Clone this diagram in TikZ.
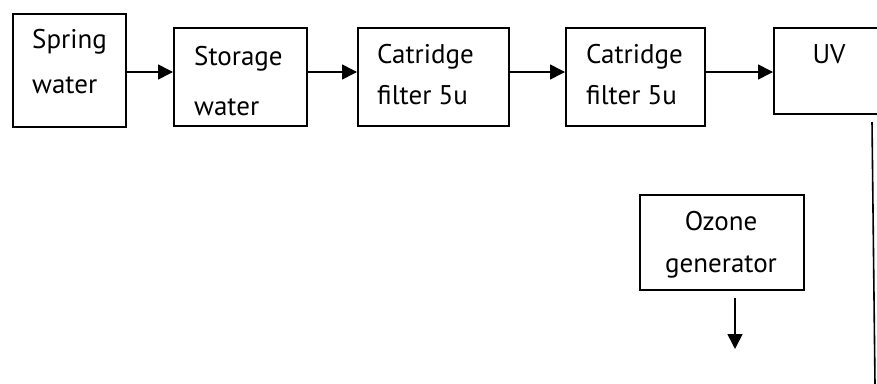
\documentclass[tikz,border=0pt]{standalone}
\usepackage{fontspec}
\setmainfont{PT Sans}
\usetikzlibrary{arrows.meta}
\tikzset{
  boxnode/.style={draw, line width=1.8pt, rectangle, inner sep=0pt, anchor=north west},
  lbl/.style={inner sep=0pt, font=\fontsize{27}{32}\selectfont},
  arr/.style={line width=1.6pt, -{Triangle[length=15pt,width=15pt]}},
  plain/.style={line width=1.6pt}
}
\begin{document}
\begin{tikzpicture}[x=1pt,y=-1pt]
\clip (0,0) rectangle (877,383);
\useasboundingbox (0,0) rectangle (877,383);
% boxes
\node[boxnode, minimum width=113pt, minimum height=113pt] (b1) at (12,13) {};
\node[boxnode, minimum width=133pt, minimum height=98pt] (b2) at (173,27) {};
\node[boxnode, minimum width=151pt, minimum height=98pt] (b3) at (357,27) {};
\node[boxnode, minimum width=139pt, minimum height=98pt] (b4) at (565,27) {};
\node[boxnode, minimum width=140pt, minimum height=86pt] (b5) at (773,27) {};
\node[boxnode, minimum width=164pt, minimum height=95pt] (b6) at (639,194) {};
% texts
\node[lbl, anchor=base west] (t1a) at (32,48) {Spring};
\node[lbl, anchor=base west] (t1b) at (32,93) {water};
\node[lbl, anchor=base west] (t2a) at (194,65) {Storage};
\node[lbl, anchor=base west] (t2b) at (194,115) {water};
\node[lbl, anchor=base west] (t3a) at (377,63) {Catridge};
\node[lbl, anchor=base west] (t3b) at (377,104) {filter 5u};
\node[lbl, anchor=base west] (t4a) at (586,63) {Catridge};
\node[lbl, anchor=base west] (t4b) at (586,104) {filter 5u};
\node[lbl, anchor=base] (t5) at (829,63) {UV};
\node[lbl, anchor=base] (t6a) at (721,230) {Ozone};
\node[lbl, anchor=base] (t6b) at (721,272) {generator};
% connectors
\draw[arr] (b1.east |- 0,72) -- (b2.west |- 0,72);
\draw[arr] (b2.east |- 0,72) -- (b3.west |- 0,72);
\draw[arr] (b3.east |- 0,72) -- (b4.west |- 0,72);
\draw[arr] (b4.east |- 0,72) -- (b5.west |- 0,72);
\coordinate (oz1) at (735,298);
\coordinate (oz2) at (735,349);
\draw[arr] (oz1) -- (oz2);
\coordinate (v1) at (872,122);
\coordinate (v2) at (875,385);
\draw[plain] (v1) -- (v2);
\end{tikzpicture}
\end{document}
